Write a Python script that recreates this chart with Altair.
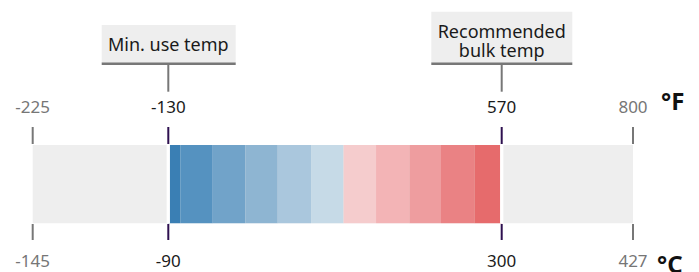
import altair as alt
import pandas as pd

# ---- data ----
celsius_ticks = [-145, -90, 300, 427]
fahrenheit_ticks = [-225, -130, 570, 800]
tick_kind = ["limit", "marker", "marker", "limit"]

segment_edges = [-90, -76, -38, 0, 38, 77, 115, 153, 192, 229, 268, 300]
segment_palette = ["#3a7fb4", "#5592c0", "#71a3c9", "#8eb5d2", "#aac7dd", "#c6dae7",
                   "#f5cccd", "#f3b4b6", "#ee9d9f", "#ea8284", "#e66b6c"]

annot_lines = [["Min. use temp"], ["Recommended", "bulk temp"]]
annot_anchor = [-90, 300]

unit_top = "°F"
unit_bottom = "°C"

# ---- tables ----
ticks = pd.DataFrame({
    "c": celsius_ticks,
    "f": [str(v) for v in fahrenheit_ticks],
    "cl": [str(v) for v in celsius_ticks],
    "kind": tick_kind,
})
segs = pd.DataFrame({
    "lo": segment_edges[:-1],
    "hi": segment_edges[1:],
    "idx": list(range(len(segment_edges) - 1)),
})
full = pd.DataFrame({"lo": [celsius_ticks[0]], "hi": [celsius_ticks[-1]]})

FONT = "Noto Sans"
x_scale = alt.Scale(domain=celsius_ticks, range=[24.7, 160.3, 493.7, 625], nice=False, zero=False)
X = lambda f: alt.X(f, scale=x_scale, axis=None)

BAR_T, BAR_B = 137, 215.3

bg = alt.Chart(full).mark_rect(color="#eeeeee").encode(
    x=X("lo:Q"), x2="hi:Q", y=alt.value(BAR_T), y2=alt.value(BAR_B))

seg = alt.Chart(segs).mark_rect().encode(
    x=X("lo:Q"), x2="hi:Q", y=alt.value(BAR_T), y2=alt.value(BAR_B),
    color=alt.Color("idx:O", scale=alt.Scale(domain=segs["idx"].tolist(), range=segment_palette), legend=None))

markers = alt.Chart(ticks).transform_filter(alt.datum.kind == "marker")
gaps = markers.mark_rule(color="white", strokeWidth=3.3).encode(
    x=X("c:Q"), y=alt.value(BAR_T), y2=alt.value(BAR_B))

is_limit = alt.datum.kind == "limit"
tick_color = alt.condition(is_limit, alt.value("#777777"), alt.value("#2e1050"))
label_color = alt.condition(is_limit, alt.value("#767676"), alt.value("#1a1a1a"))

base = alt.Chart(ticks)
top_ticks = base.mark_rule(strokeWidth=2).encode(
    x=X("c:Q"), y=alt.value(119), y2=alt.value(136), color=tick_color)
bot_ticks = base.mark_rule(strokeWidth=2).encode(
    x=X("c:Q"), y=alt.value(216), y2=alt.value(232), color=tick_color)
top_labels = base.mark_text(font=FONT, fontSize=17, baseline="alphabetic", align="center").encode(
    x=X("c:Q"), y=alt.value(104.7), text="f:N", color=label_color)
bot_labels = base.mark_text(font=FONT, fontSize=17, baseline="alphabetic", align="center").encode(
    x=X("c:Q"), y=alt.value(258.5), text="cl:N", color=label_color)

unit_f = alt.Chart(pd.DataFrame({"u": [unit_top]})).mark_text(
    font=FONT, fontSize=24, fontWeight="bold", align="left", baseline="alphabetic", color="#111111").encode(
    x=alt.value(653), y=alt.value(102), text="u:N")
unit_c = alt.Chart(pd.DataFrame({"u": [unit_bottom]})).mark_text(
    font=FONT, fontSize=24, fontWeight="bold", align="left", baseline="alphabetic", color="#111111").encode(
    x=alt.value(649), y=alt.value(265), text="u:N")

# annotation boxes
box_geom = [
    dict(left=-66.6, right=67.4, top=17, text_y=42.7),
    dict(left=-70.4, right=70.6, top=3.7, text_y=30),
]
LINE_H = 19
annot_layers = []
for i, g in enumerate(box_geom):
    d = pd.DataFrame({"a": [annot_anchor[i]]})
    c = alt.Chart(d)
    annot_layers += [
        c.mark_rect(color="#eeeeee", xOffset=g["left"], x2Offset=g["right"]).encode(
            x=X("a:Q"), x2="a:Q", y=alt.value(g["top"]), y2=alt.value(55)),
        c.mark_rule(color="#777777", strokeWidth=2.5, xOffset=g["left"], x2Offset=g["right"]).encode(
            x=X("a:Q"), x2="a:Q", y=alt.value(55.7)),
        c.mark_rule(color="#777777", strokeWidth=2).encode(
            x=X("a:Q"), y=alt.value(57), y2=alt.value(83.7)),
    ]
    for j, line in enumerate(annot_lines[i]):
        t = pd.DataFrame({"a": [annot_anchor[i]], "label": [line]})
        annot_layers.append(
            alt.Chart(t).mark_text(font=FONT, fontSize=18, color="#1a1a1a", baseline="alphabetic",
                                   align="center").encode(
                x=X("a:Q"), y=alt.value(g["text_y"] + j * LINE_H), text="label:N"))

chart = alt.layer(
    bg, seg, gaps, top_ticks, bot_ticks, top_labels, bot_labels, unit_f, unit_c, *annot_layers
).properties(
    width=683, height=270, padding=0, autosize=alt.AutoSizeParams(type="none")
).configure_view(stroke=None)

chart.save("out.html", embed_options={"renderer": "svg", "actions": False})
